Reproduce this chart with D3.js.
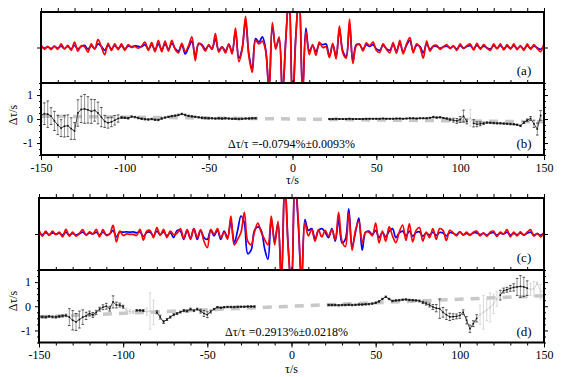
<!DOCTYPE html>
<html>
<head>
<meta charset="utf-8">
<script src="https://cdn.jsdelivr.net/npm/d3@7"></script>
<style>
  body { margin: 0; background: #fff; }
  svg { display: block; }
  text { font-family: "Liberation Serif", "Times New Roman", serif; fill: #000; }
</style>
</head>
<body>
<svg id="chart" width="562" height="377"></svg>
<script>
// lag axis (s)
const lagWave = d3.range(-150, 151, 2);
const lagDelay = d3.range(-150, -21, 2).concat(d3.range(22, 151, 2));
const xTicks = [-150, -100, -50, 0, 50, 100, 150];
const yTicks = [-1, 0, 1];

// (a) waveforms, normalised so the panel spans -1..1
const waveARed = [
  0.08, -0.05, 0.03, -0.06, 0.04, -0.05, 0.10, -0.04, 0.06, -0.08,
  0.15, -0.10, 0.05, 0.02, -0.13, 0.10, -0.05, 0.22, 0.02, -0.20,
  0.12, -0.08, 0.10, -0.06, 0.10, -0.08, 0.08, 0.00, 0.03, -0.02,
  0.04, 0.15, -0.08, 0.14, -0.12, 0.20, -0.12, 0.18, -0.10, 0.20,
  -0.05, -0.15, 0.12, -0.12, 0.05, 0.30, -0.37, 0.12, 0.05, -0.10,
  0.08, -0.05, 0.39, -0.13, 0.02, -0.15, 0.10, -0.18, 0.55, -0.40,
  -0.05, 0.88, -0.25, -0.70, 0.20, 0.10, 0.18, -0.10, -1.25, 0.70,
  -0.05, 0.30, -1.40, 0.20, 1.60, -1.70, 0.30, 1.60, -1.40, 0.45,
  -0.20, 0.08, -0.22, 0.15, 0.00, 0.02, -0.28, 0.12, -0.32, 0.60,
  -0.15, -0.30, 0.80, -0.45, 0.05, 0.10, -0.10, 0.13, 0.05, 0.15,
  -0.08, -0.14, 0.10, -0.05, -0.15, 0.14, -0.16, 0.20, -0.18, 0.10,
  0.28, -0.15, 0.10, 0.00, -0.30, 0.18, -0.10, 0.05, 0.06, -0.05,
  0.02, 0.08, -0.03, 0.05, -0.08, 0.10, -0.03, 0.05, 0.10, -0.07,
  0.12, -0.05, 0.08, -0.02, -0.08, 0.10, -0.04, 0.10, -0.07, 0.08,
  -0.05, 0.10, -0.06, 0.05, -0.08, 0.10, -0.05, 0.08, -0.03, -0.12,
  0.12
];
const waveABlue = [
  0.05, -0.02, 0.02, -0.03, 0.03, -0.02, 0.04, -0.03, 0.03, -0.04,
  0.06, -0.04, 0.03, 0.06, -0.05, 0.05, -0.03, 0.10, 0.03, -0.08,
  0.06, -0.04, 0.05, -0.03, 0.05, -0.04, 0.04, 0.02, 0.05, 0.03,
  0.02, 0.08, -0.04, 0.07, -0.06, 0.10, -0.06, 0.10, -0.05, 0.12,
  -0.03, -0.10, 0.08, -0.18, 0.00, 0.18, -0.25, 0.10, 0.08, -0.05,
  0.05, -0.03, 0.25, -0.08, 0.02, -0.10, 0.08, -0.12, 0.45, -0.30,
  -0.02, 0.75, -0.20, -0.60, 0.25, 0.15, 0.30, -0.05, -1.20, 0.60,
  0.00, 0.25, -1.30, 0.25, 1.50, -1.60, 0.35, 1.50, -1.30, 0.55,
  -0.10, 0.05, -0.12, 0.10, 0.08, 0.10, -0.25, 0.08, -0.25, 0.50,
  -0.10, -0.25, 0.65, -0.40, 0.08, 0.08, -0.05, 0.08, 0.03, 0.08,
  -0.04, -0.08, 0.06, -0.03, -0.08, 0.08, -0.10, 0.12, -0.12, 0.06,
  0.20, -0.10, 0.06, 0.03, -0.15, 0.10, -0.05, 0.03, 0.03, -0.02,
  0.02, 0.04, -0.01, 0.03, -0.04, 0.05, -0.02, 0.03, 0.05, -0.03,
  0.06, -0.02, 0.04, -0.01, -0.04, 0.05, -0.02, 0.05, -0.03, 0.04,
  -0.02, 0.05, -0.03, 0.03, -0.04, 0.05, -0.02, 0.04, -0.01, -0.05,
  0.05
];

// (c) waveforms
const waveCRed = [
  0.12, -0.06, 0.08, -0.04, 0.08, -0.02, 0.05, -0.08, 0.13, -0.06,
  0.05, -0.06, 0.02, 0.12, -0.04, 0.06, 0.00, 0.13, -0.08, 0.12,
  -0.04, 0.00, 0.24, -0.22, 0.08, -0.04, 0.00, -0.01, -0.01, -0.04,
  0.13, -0.17, 0.08, 0.10, -0.10, 0.18, -0.04, 0.13, -0.10, 0.08,
  -0.02, 0.02, 0.15, -0.12, 0.12, -0.15, 0.15, -0.10, 0.12, -0.20,
  -0.38, 0.13, -0.01, 0.15, -0.10, 0.05, -0.14, 0.50, -0.30, -0.15,
  0.05, 0.60, -0.20, -0.30, 0.05, 0.30, 0.05, -0.15, -0.30, 0.50,
  -0.30, 0.35, -1.50, 1.60, -0.40, -1.50, 1.60, 0.40, -1.30, 0.30,
  -0.05, 0.12, -0.20, 0.12, -0.08, 0.10, -0.06, 0.12, -0.15, 0.60,
  -0.20, -0.35, 0.58, -0.45, 0.10, 0.35, -0.24, 0.05, 0.05, -0.05,
  0.30, -0.25, 0.08, -0.20, 0.20, -0.05, -0.24, 0.05, 0.25, -0.18,
  0.28, -0.22, 0.10, 0.18, -0.20, 0.05, -0.10, 0.15, -0.15, 0.15,
  0.10, -0.18, 0.10, 0.04, -0.05, 0.06, -0.03, 0.05, -0.04, 0.05,
  0.08, -0.05, 0.03, -0.06, 0.05, 0.08, -0.07, 0.05, 0.00, 0.12,
  -0.08, 0.05, -0.05, 0.06, -0.04, 0.05, 0.12, -0.06, 0.02, -0.08,
  0.05
];
const waveCBlue = [
  0.05, -0.02, 0.04, -0.02, 0.03, 0.00, 0.02, -0.03, 0.05, -0.03,
  0.02, -0.03, 0.01, 0.05, -0.02, 0.03, 0.00, 0.05, -0.03, 0.05,
  -0.02, 0.00, 0.10, -0.08, 0.06, 0.05, 0.06, 0.05, 0.06, 0.03,
  0.06, -0.07, 0.04, 0.05, -0.05, 0.08, -0.02, 0.06, -0.05, 0.04,
  -0.10, 0.10, 0.08, -0.15, 0.10, -0.12, 0.15, -0.15, 0.10, -0.10,
  -0.15, 0.10, -0.05, 0.10, -0.15, 0.08, -0.10, 0.35, -0.25, 0.10,
  0.50, 0.30, -0.55, -0.45, 0.10, 0.20, 0.10, -0.40, -0.70, 0.40,
  -0.20, 0.30, -1.30, 1.50, -0.30, -1.50, 1.50, 0.30, -1.40, 0.40,
  0.10, 0.15, -0.15, 0.10, 0.15, 0.05, -0.10, 0.15, -0.20, 0.40,
  -0.25, -0.15, 0.70, -0.35, 0.05, 0.44, -0.45, 0.05, 0.08, -0.02,
  0.10, -0.10, 0.04, -0.08, 0.08, 0.15, -0.10, 0.03, 0.08, -0.05,
  0.08, -0.06, 0.04, 0.06, -0.06, 0.02, -0.03, 0.05, -0.04, 0.04,
  0.03, -0.05, 0.04, 0.02, -0.02, 0.06, -0.02, 0.02, -0.02, 0.03,
  0.03, -0.02, 0.02, -0.03, 0.02, 0.04, -0.03, 0.02, 0.00, 0.05,
  -0.03, 0.02, -0.02, 0.03, -0.02, 0.02, 0.05, -0.03, 0.01, -0.03,
  0.02
];

// (b) delay measurements (s) and their errors
const dtB = [
  0.15, 0.22, 0.20, 0.12, -0.08, -0.25, -0.38, -0.30, -0.28, -0.40,
  -0.50, 0.25, 0.40, 0.42, 0.38, 0.32, 0.36, 0.25, 0.08, -0.10,
  -0.16, -0.12, -0.05, 0.02, 0.06, 0.05, 0.03, 0.10, 0.08, 0.04,
  0.01, -0.01, -0.02, 0.00, -0.03, -0.04, 0.02, 0.06, 0.09, 0.12,
  0.14, 0.17, 0.21, 0.17, 0.13, 0.11, 0.09, 0.07, 0.05, 0.04,
  0.03, 0.03, 0.02, 0.03, 0.02, 0.03, 0.02, 0.01, 0.01, 0.00,
  0.01, 0.02, 0.02, 0.03, 0.03,
  0.00, 0.00, 0.01, 0.00, 0.00, 0.00, 0.01, 0.00, 0.00, 0.00,
  0.00, 0.01, 0.01, 0.01, 0.01, 0.01, 0.02, 0.01, 0.01, 0.01,
  0.02, 0.02, 0.01, 0.02, 0.03, 0.03, 0.02, 0.03, 0.03, 0.03,
  0.05, 0.08, 0.06, 0.07, 0.04, 0.02, -0.02, -0.05, -0.08, -0.02,
  0.12, -0.10, 0.05, -0.18, -0.22, -0.20, -0.18, -0.15, -0.16, -0.17,
  -0.18, -0.18, -0.19, -0.20, -0.21, -0.22, -0.24, -0.28, -0.15, -0.05,
  0.02, -0.20, -0.42, 0.15, -0.05
];
const errB = [
  0.25, 0.45, 0.55, 0.35, 0.40, 0.40, 0.35, 0.45, 0.45, 0.45,
  0.35, 0.55, 0.55, 0.60, 0.55, 0.50, 0.45, 0.45, 0.40, 0.25,
  0.22, 0.20, 0.20, 0.15, 0.04, 0.03, 0.03, 0.03, 0.03, 0.03,
  0.03, 0.03, 0.03, 0.03, 0.03, 0.03, 0.03, 0.03, 0.03, 0.03,
  0.03, 0.03, 0.03, 0.03, 0.03, 0.03, 0.03, 0.03, 0.03, 0.03,
  0.03, 0.03, 0.03, 0.03, 0.03, 0.03, 0.03, 0.03, 0.03, 0.03,
  0.03, 0.03, 0.03, 0.03, 0.03,
  0.02, 0.02, 0.02, 0.02, 0.02, 0.02, 0.02, 0.02, 0.02, 0.02,
  0.02, 0.02, 0.02, 0.02, 0.02, 0.02, 0.02, 0.02, 0.02, 0.02,
  0.02, 0.02, 0.02, 0.02, 0.02, 0.02, 0.02, 0.02, 0.02, 0.02,
  0.02, 0.03, 0.03, 0.03, 0.02, 0.03, 0.05, 0.08, 0.10, 0.12,
  0.25, 0.10, 0.35, 0.15, 0.10, 0.08, 0.05, 0.03, 0.03, 0.03,
  0.03, 0.03, 0.03, 0.03, 0.03, 0.03, 0.03, 0.03, 0.04, 0.05,
  0.08, 0.15, 0.25, 0.20, 0.70
];
const greyB = [[105, 107], [149, 151]];
const slopeB = -0.0794;   // %

// (d) delay measurements (s) and their errors
const dtD = [
  -0.44, -0.44, -0.45, -0.42, -0.44, -0.45, -0.42, -0.40, -0.38, -0.45,
  -0.58, -0.65, -0.55, -0.45, -0.40, -0.30, -0.36, -0.25, -0.12, -0.04,
  0.00, -0.10, 0.18, 0.05, 0.05, -0.02, -0.18, -0.22, -0.24, -0.17,
  -0.17, -0.18, -0.22, -0.20, -0.25, -0.25, -0.45, -0.65, -0.55, -0.45,
  -0.35, -0.30, -0.24, -0.18, -0.20, -0.12, -0.18, -0.12, -0.20, -0.30,
  -0.35, -0.22, -0.12, -0.04, -0.06, -0.04, -0.03, -0.03, -0.03, -0.02,
  -0.02, -0.02, -0.01, -0.01, -0.01,
  0.05, 0.05, 0.05, 0.04, 0.05, 0.05, 0.06, 0.05, 0.06, 0.07,
  0.07, 0.08, 0.09, 0.11, 0.14, 0.20, 0.30, 0.39, 0.30, 0.22,
  0.24, 0.25, 0.27, 0.28, 0.26, 0.25, 0.24, 0.22, 0.16, 0.11,
  0.05, -0.03, -0.08, -0.10, -0.25, -0.35, -0.44, -0.43, -0.42, -0.38,
  -0.25, -0.58, -0.93, -0.72, -0.50, -0.35, -0.25, -0.15, -0.05, 0.10,
  0.30, 0.46, 0.65, 0.68, 0.74, 0.78, 0.80, 0.82, 0.80, 0.75,
  0.70, 0.72, 0.95, 0.60, 0.65
];
const errD = [
  0.04, 0.04, 0.04, 0.04, 0.04, 0.04, 0.04, 0.04, 0.05, 0.35,
  0.40, 0.35, 0.35, 0.30, 0.15, 0.10, 0.10, 0.08, 0.08, 0.10,
  0.12, 0.10, 0.25, 0.12, 0.08, 0.06, 0.10, 0.08, 0.06, 0.03,
  0.03, 0.04, 0.15, 0.75, 0.50, 0.06, 0.08, 0.06, 0.04, 0.04,
  0.04, 0.04, 0.04, 0.04, 0.04, 0.04, 0.04, 0.04, 0.08, 0.12,
  0.12, 0.06, 0.03, 0.03, 0.03, 0.03, 0.03, 0.03, 0.03, 0.03,
  0.03, 0.03, 0.03, 0.03, 0.03,
  0.03, 0.03, 0.03, 0.03, 0.03, 0.03, 0.03, 0.03, 0.03, 0.03,
  0.03, 0.03, 0.03, 0.03, 0.03, 0.03, 0.03, 0.03, 0.03, 0.03,
  0.03, 0.03, 0.03, 0.03, 0.03, 0.03, 0.03, 0.04, 0.05, 0.06,
  0.08, 0.10, 0.15, 0.40, 0.20, 0.20, 0.15, 0.12, 0.10, 0.12,
  0.10, 0.15, 0.15, 0.12, 0.15, 0.40, 0.70, 0.45, 0.60, 0.40,
  0.30, 0.20, 0.10, 0.10, 0.12, 0.15, 0.35, 0.45, 0.40, 0.30,
  0.25, 0.30, 0.05, 0.30, 0.35
];
const greyD = [[-99, -93], [-87, -81], [111, 123], [141, 151]];
const slopeD = 0.2913;    // %

const svg = d3.select('#chart');
const minorX = d3.range(-150, 151, 10);
const fmt = d => String(d);

function noDomain(g) { g.select('.domain').remove(); }

function drawWave(x, top, bottom, red, blue, tag, id) {
    const y = d3.scaleLinear().domain([-1, 1]).range([bottom, top]);
    const x0 = x(-150), x1 = x(150);

    svg.append('clipPath').attr('id', id).append('rect')
        .attr('x', x0).attr('y', top).attr('width', x1 - x0).attr('height', bottom - top);

    const line = d3.line()
        .x((d, i) => x(lagWave[i]))
        .y(d => y(d))
        .curve(d3.curveCatmullRom.alpha(0.5));

    const g = svg.append('g').attr('clip-path', `url(#${id})`);
    g.append('path').datum(blue).attr('fill', 'none').attr('stroke', '#0000ff').attr('stroke-width', 1.7).attr('d', line);
    g.append('path').datum(red).attr('fill', 'none').attr('stroke', '#ff0000').attr('stroke-width', 1.7).attr('d', line);

    // zero ticks on both sides
    svg.append('g').attr('transform', `translate(${x0},0)`)
        .call(d3.axisLeft(y).tickValues([0]).tickSize(4).tickFormat('')).call(noDomain);
    svg.append('g').attr('transform', `translate(${x1},0)`)
        .call(d3.axisRight(y).tickValues([0]).tickSize(4).tickFormat('')).call(noDomain);

    // top ticks outward, bottom ticks inward
    svg.append('g').attr('transform', `translate(0,${top})`)
        .call(d3.axisTop(x).tickValues(minorX).tickSize(4).tickFormat('')).call(noDomain);
    svg.append('g').attr('transform', `translate(0,${bottom})`)
        .call(d3.axisTop(x).tickValues(minorX).tickSize(3).tickFormat('')).call(noDomain);

    svg.append('rect')
        .attr('x', x0).attr('y', top).attr('width', x1 - x0).attr('height', bottom - top)
        .attr('fill', 'none').attr('stroke', '#000').attr('stroke-width', 2);

    svg.append('text').attr('x', 524).attr('y', bottom - 8)
        .attr('text-anchor', 'middle').attr('font-size', '13px').text(tag);
}

function drawDelay(x, top, bottom, dt, err, grey, slope, note, tag, id, opt) {
    const y = d3.scaleLinear().domain([-1.5, 1.5]).range([bottom, top]);
    const x0 = x(-150), x1 = x(150);
    const isGrey = t => grey.some(([a, b]) => t >= a && t <= b);

    svg.append('clipPath').attr('id', id).append('rect')
        .attr('x', x0).attr('y', top).attr('width', x1 - x0).attr('height', bottom - top);
    const g = svg.append('g').attr('clip-path', `url(#${id})`);

    // fitted relative change, drawn as thick grey dashes
    g.append('path')
        .datum([-150, 150])
        .attr('fill', 'none').attr('stroke', '#c8c8c8').attr('stroke-width', 3.5)
        .attr('stroke-dasharray', '9,7')
        .attr('d', d3.line().x(t => x(t)).y(t => y(slope / 100 * t)));

    const pts = lagDelay.map((t, i) => ({ t, v: dt[i], e: err[i], grey: isGrey(t) }));

    [true, false].forEach(pass => {
        const col = pass ? '#cacaca' : '#111';
        const bar = pass ? '#cacaca' : '#666';
        pts.forEach((p, i) => {
            if (i > 0 && p.t - pts[i - 1].t === 2 && (p.grey || pts[i - 1].grey) === pass) {
                g.append('line')
                    .attr('x1', x(pts[i - 1].t)).attr('y1', y(pts[i - 1].v))
                    .attr('x2', x(p.t)).attr('y2', y(p.v))
                    .attr('stroke', col).attr('stroke-width', 0.8);
            }
        });
        pts.filter(p => p.grey === pass).forEach(p => {
            const cx = x(p.t);
            g.append('line').attr('x1', cx).attr('x2', cx)
                .attr('y1', y(p.v - p.e)).attr('y2', y(p.v + p.e))
                .attr('stroke', bar).attr('stroke-width', 0.7);
            [p.v - p.e, p.v + p.e].forEach(v => {
                g.append('line').attr('x1', cx - 1.3).attr('x2', cx + 1.3)
                    .attr('y1', y(v)).attr('y2', y(v))
                    .attr('stroke', col).attr('stroke-width', 0.7);
            });
            g.append('rect').attr('x', cx - 0.8).attr('y', y(p.v) - 0.8)
                .attr('width', 1.6).attr('height', 1.6).attr('fill', col);
        });
    });

    // y axes: labelled on the left, ticks only on the right
    const minorY = d3.range(-1.5, 1.51, 0.25).filter(v => !Number.isInteger(v));
    svg.append('g').attr('transform', `translate(${x0},0)`)
        .call(d3.axisLeft(y).tickValues(yTicks).tickSize(4).tickPadding(4).tickFormat(fmt))
        .call(noDomain)
        .selectAll('text').attr('font-size', '12px').style('font-family', '"Liberation Serif", serif');
    svg.append('g').attr('transform', `translate(${x0},0)`)
        .call(d3.axisLeft(y).tickValues(minorY).tickSize(2).tickFormat('')).call(noDomain);
    svg.append('g').attr('transform', `translate(${x1},0)`)
        .call(d3.axisRight(y).tickValues(yTicks).tickSize(4).tickFormat('')).call(noDomain);
    svg.append('g').attr('transform', `translate(${x1},0)`)
        .call(d3.axisRight(y).tickValues(minorY).tickSize(2).tickFormat('')).call(noDomain);

    // x axis
    svg.append('g').attr('transform', `translate(0,${bottom})`)
        .call(d3.axisBottom(x).tickValues(minorX).tickSize(3).tickFormat('')).call(noDomain);
    svg.append('g').attr('transform', `translate(0,${bottom})`)
        .call(d3.axisBottom(x).tickValues(xTicks).tickSize(5).tickPadding(opt.pad).tickFormat(fmt))
        .call(noDomain)
        .selectAll('text').attr('font-size', '12px').style('font-family', '"Liberation Serif", serif');

    svg.append('rect')
        .attr('x', x0).attr('y', top).attr('width', x1 - x0).attr('height', bottom - top)
        .attr('fill', 'none').attr('stroke', '#000').attr('stroke-width', 2);

    svg.append('text').attr('x', opt.noteX).attr('y', bottom - 7)
        .attr('font-size', '12px').text(note);
    svg.append('text').attr('x', 524).attr('y', bottom - 7)
        .attr('text-anchor', 'middle').attr('font-size', '13px').text(tag);

    svg.append('text')
        .attr('transform', `translate(17,${opt.labelY}) rotate(-90)`)
        .attr('text-anchor', 'middle').attr('font-size', '12px').text('Δτ/s');
    svg.append('text').attr('x', x(0)).attr('y', opt.titleY)
        .attr('text-anchor', 'middle').attr('font-size', '12px').text('τ/s');
}

const xTop = d3.scaleLinear().domain([-150, 150]).range([41, 544]);
const xBot = d3.scaleLinear().domain([-150, 150]).range([39, 544]);

drawWave(xTop, 12, 83, waveARed, waveABlue, '(a)', 'clipA');
drawDelay(xTop, 83, 155, dtB, errB, greyB, slopeB, 'Δτ/τ =-0.0794%±0.0093%', '(b)', 'clipB',
    { pad: 3, noteX: 228, labelY: 115, titleY: 184 });
drawWave(xBot, 198, 270, waveCRed, waveCBlue, '(c)', 'clipC');
drawDelay(xBot, 270, 342.5, dtD, errD, greyD, slopeD, 'Δτ/τ =0.2913%±0.0218%', '(d)', 'clipD',
    { pad: 2.5, noteX: 225, labelY: 301, titleY: 373 });
</script>
</body>
</html>
